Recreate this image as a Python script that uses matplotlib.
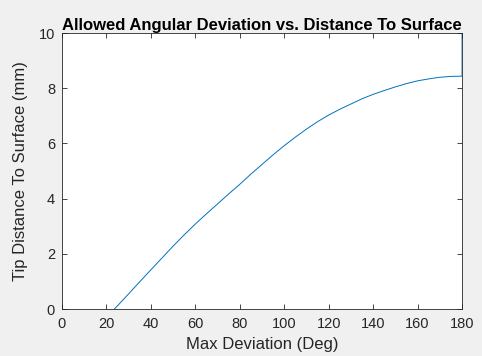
import numpy as np
import matplotlib
matplotlib.use("Agg")
import matplotlib.pyplot as plt

# ── Data ─────────────────────────────────────────────────────────────────────
max_deviation = [23.6, 25, 30, 35, 40, 45, 50, 55, 60, 65, 70, 75, 80, 85, 90,
                 95, 100, 105, 110, 115, 120, 125, 130, 135, 140, 145, 150,
                 155, 160, 165, 170, 175, 180, 180]
tip_distance = [0.0, 0.12, 0.55, 0.99, 1.42, 1.85, 2.28, 2.69, 3.08, 3.45,
                3.81, 4.17, 4.52, 4.89, 5.24, 5.59, 5.92, 6.23, 6.52, 6.79,
                7.03, 7.24, 7.43, 7.62, 7.78, 7.92, 8.05, 8.17, 8.27, 8.34,
                8.40, 8.43, 8.44, 10.0]

x_ticks = [0, 20, 40, 60, 80, 100, 120, 140, 160, 180]
y_ticks = [0, 2, 4, 6, 8, 10]

TITLE = "Allowed Angular Deviation vs. Distance To Surface"
XLABEL = "Max Deviation (Deg)"
YLABEL = "Tip Distance To Surface (mm)"
# ─────────────────────────────────────────────────────────────────────────────

plt.rcParams["font.family"] = ["Liberation Sans", "DejaVu Sans"]
FG = "#262626"

fig = plt.figure(figsize=(4.82, 3.56), dpi=100, facecolor="#f0f0f0")
ax = fig.add_axes([0.1286, 0.132, 0.83, 0.775])
ax.set_facecolor("white")

ax.plot(max_deviation, tip_distance, color="#0072BD", linewidth=0.7)

ax.set_xlim(0, 180)
ax.set_ylim(0, 10)
ax.set_xticks(x_ticks)
ax.set_yticks(y_ticks)
ax.tick_params(direction="in", length=3.5, width=0.6, colors=FG,
               labelsize=10.5, top=True, right=True, pad=5)
ax.tick_params(axis="x", pad=6)
for side in ax.spines.values():
    side.set_color(FG)
    side.set_linewidth(0.6)

ax.set_title(TITLE, fontsize=12, fontweight="bold", color="black", pad=2)
ax.set_xlabel(XLABEL, fontsize=12, color=FG, labelpad=4)
ax.set_ylabel(YLABEL, fontsize=12, color=FG, labelpad=8)

fig.savefig("out.png", dpi=100, facecolor=fig.get_facecolor())
